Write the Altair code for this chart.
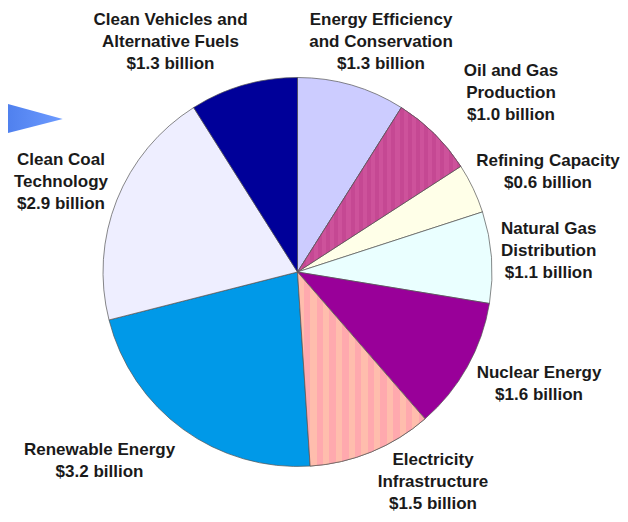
import altair as alt
import pandas as pd
import math

# ---- chart data ----
categories = [
    "Energy Efficiency\nand Conservation",
    "Oil and Gas\nProduction",
    "Refining Capacity",
    "Natural Gas\nDistribution",
    "Nuclear Energy",
    "Electricity\nInfrastructure",
    "Renewable Energy",
    "Clean Coal\nTechnology",
    "Clean Vehicles and\nAlternative Fuels",
]
values = [1.3, 1.0, 0.6, 1.1, 1.6, 1.5, 3.2, 2.9, 1.3]
colors = ["#CCCCFF", "#CC5099", "#FFFFE8", "#EAFFFF", "#990099",
          "#FFB4A8", "#0099E8", "#EEEEFF", "#000099"]
striped = [categories[1], categories[5]]

# ---- layout (not data) ----
W, H = 612, 506
CX, CY, R = 289.5, 264, 194.5
label_pos = [(373, 12), (503, 62.5), (540, 153), (540.7, 221), (531, 365),
             (425, 452), (91.5, 442), (53, 152), (162.5, 12)]

df = pd.DataFrame({
    "cat": categories,
    "value": values,
    "order": list(range(len(categories))),
})
df["label"] = [f"{c}\n${v:.1f} billion" for c, v in zip(categories, values)]
df["lx"] = [p[0] for p in label_pos]
df["ly"] = [p[1] for p in label_pos]
total = float(sum(values))


def stripes(c1, c2, n):
    stops = []
    for i in range(n):
        a, b = i / n, (i + 0.5) / n
        e = (i + 1) / n
        stops += [alt.GradientStop(color=c1, offset=a), alt.GradientStop(color=c1, offset=b),
                  alt.GradientStop(color=c2, offset=b), alt.GradientStop(color=c2, offset=e)]
    return alt.Gradient(gradient="linear", x1=0, x2=1, y1=0, y2=0, stops=stops)


theta_scale = alt.Scale(domain=[0, total], range=[0, 2 * math.pi])

base = alt.Chart(df).transform_window(
    end="sum(value)", sort=[alt.SortField("order")]
).transform_calculate(start="datum.end - datum.value")

pie = base.mark_arc(
    outerRadius=R, stroke="#555555", strokeWidth=0.7, x=CX, y=CY
).encode(
    theta=alt.Theta("start:Q", scale=theta_scale),
    theta2="end:Q",
    color=alt.Color("cat:N", scale=alt.Scale(domain=categories, range=colors), legend=None),
)

oil = base.transform_filter(alt.datum.cat == striped[0]).mark_arc(
    outerRadius=R, stroke="#555555", strokeWidth=0.7, x=CX, y=CY,
    fill=stripes("#CD529B", "#C54893", 20),
).encode(theta=alt.Theta("start:Q", scale=theta_scale), theta2="end:Q")

elec = base.transform_filter(alt.datum.cat == striped[1]).mark_arc(
    outerRadius=R, stroke="#555555", strokeWidth=0.7, x=CX, y=CY,
    fill=stripes("#FFBDAD", "#FFA9AE", 10),
).encode(theta=alt.Theta("start:Q", scale=theta_scale), theta2="end:Q")

labels = alt.Chart(df).mark_text(
    font="Liberation Sans", fontWeight="bold", fontSize=17, lineHeight=22,
    lineBreak="\n", align="center", baseline="middle", color="#1a1a1a"
).encode(
    x=alt.X("lx:Q", scale=None),
    y=alt.Y("ly:Q", scale=None),
    text="label:N",
)

tri = pd.DataFrame({"tx": [-20, 54.7], "ty": [90.4, 111], "ty2": [130.1, 111]})
arrow = alt.Chart(tri).mark_area(
    fill=alt.Gradient(gradient="linear", x1=0, x2=1, y1=0, y2=0,
                      stops=[alt.GradientStop(color="#4577E8", offset=0),
                             alt.GradientStop(color="#6D9BFF", offset=1)]),
    strokeWidth=0,
).encode(
    x=alt.X("tx:Q", scale=None),
    y=alt.Y("ty:Q", scale=None),
    y2="ty2:Q",
)

chart = alt.layer(arrow, pie, oil, elec, labels).properties(
    width=W, height=H, padding=0, autosize=alt.AutoSizeParams(type="none"),
    background="white",
).configure_view(stroke=None)

chart.save("out.html", embed_options={"renderer": "svg", "actions": False})
